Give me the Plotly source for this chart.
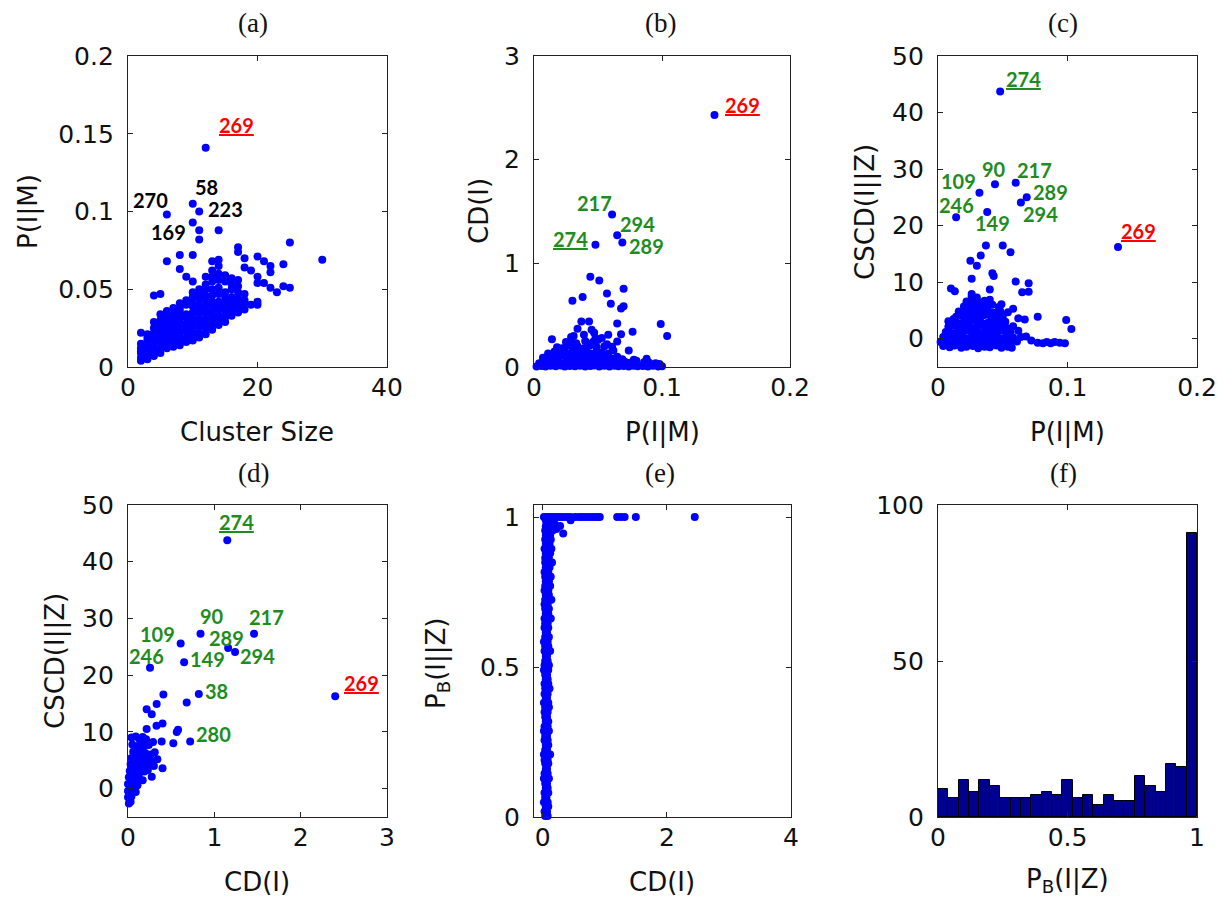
import numpy as np
import plotly.graph_objects as go

W, H = 1217, 902

# ---------------- (a) cluster size vs P(I|M) ----------------
a_size = [
    12, 6, 10, 11, 10, 11, 11, 14, 6, 8,
    10, 8, 9, 10, 4, 5, 4, 2, 3, 17,
    17, 18, 18, 19, 20, 21, 22, 22, 24, 25,
    30, 20, 20, 21, 22, 23, 24, 25, 20, 20,
    19, 17, 13, 14, 13, 14,
    2, 2, 2, 2, 2, 2,
    3, 3, 3, 3, 3, 3,
    4, 4, 4, 4, 4, 4, 4,
    5, 5, 5, 5, 5, 5, 5, 5, 5,
    6, 6, 6, 6, 6, 6, 6, 6, 6,
    7, 7, 7, 7, 7, 7, 7, 7, 7,
    8, 8, 8, 8, 8, 8, 8, 8, 8, 8,
    9, 9, 9, 9, 9, 9, 9, 9, 9,
    10, 10, 10, 10, 10, 10, 10, 10, 10, 10, 10,
    11, 11, 11, 11, 11, 11, 11, 11, 11, 11, 11,
    12, 12, 12, 12, 12, 12, 12, 12, 12, 12, 12, 12,
    13, 13, 13, 13, 13, 13, 13, 13, 13, 13, 13,
    14, 14, 14, 14, 14, 14, 14, 14, 14, 14,
    15, 15, 15, 15, 15, 15, 15, 15, 15,
    16, 16, 16, 16, 16, 16, 16, 16,
    17, 17, 17, 17, 17, 17, 17,
    18, 18, 18, 18,
]
a_pim = [
    0.141, 0.098, 0.105, 0.100, 0.093, 0.088, 0.082, 0.088, 0.068, 0.072,
    0.072, 0.063, 0.058, 0.055, 0.046, 0.047, 0.029, 0.022, 0.021, 0.077,
    0.074, 0.070, 0.064, 0.062, 0.071, 0.068, 0.065, 0.061, 0.066, 0.080,
    0.069, 0.058, 0.054, 0.054, 0.051, 0.048, 0.052, 0.051, 0.042, 0.040,
    0.040, 0.039, 0.068, 0.069, 0.062, 0.065,
    0.004, 0.006, 0.009, 0.010, 0.012, 0.015,
    0.005, 0.008, 0.010, 0.013, 0.017, 0.019,
    0.007, 0.011, 0.013, 0.016, 0.018, 0.022, 0.025,
    0.009, 0.012, 0.016, 0.018, 0.021, 0.023, 0.027, 0.030, 0.034,
    0.012, 0.014, 0.018, 0.021, 0.025, 0.027, 0.030, 0.032, 0.036,
    0.013, 0.016, 0.020, 0.022, 0.025, 0.029, 0.031, 0.034, 0.038,
    0.014, 0.018, 0.020, 0.023, 0.027, 0.029, 0.032, 0.036, 0.038, 0.041,
    0.016, 0.019, 0.023, 0.025, 0.028, 0.032, 0.034, 0.040, 0.043,
    0.017, 0.021, 0.023, 0.026, 0.030, 0.032, 0.035, 0.039, 0.041, 0.045, 0.048,
    0.019, 0.022, 0.026, 0.028, 0.031, 0.035, 0.037, 0.040, 0.044, 0.047, 0.050,
    0.021, 0.025, 0.027, 0.030, 0.034, 0.036, 0.039, 0.043, 0.046, 0.050, 0.053, 0.058,
    0.024, 0.027, 0.031, 0.033, 0.036, 0.040, 0.042, 0.046, 0.050, 0.055, 0.058,
    0.027, 0.030, 0.033, 0.037, 0.039, 0.042, 0.047, 0.051, 0.056, 0.060,
    0.029, 0.032, 0.036, 0.038, 0.041, 0.045, 0.048, 0.055, 0.059,
    0.033, 0.036, 0.040, 0.042, 0.045, 0.050, 0.053, 0.057,
    0.035, 0.038, 0.042, 0.044, 0.048, 0.052, 0.056,
    0.037, 0.041, 0.043, 0.047,
]

# ---------------- (b) P(I|M) vs CD(I) ----------------
b_pim = [
    0.141, 0.061, 0.065, 0.069, 0.048, 0.044, 0.051, 0.030, 0.038, 0.057,
    0.070, 0.060, 0.068, 0.070, 0.037, 0.043, 0.065, 0.099, 0.104, 0.077,
    0.068, 0.014, 0.058, 0.074,
    0.002, 0.006, 0.009, 0.013, 0.017, 0.021, 0.024, 0.028, 0.032, 0.036,
    0.040, 0.044, 0.047, 0.051, 0.055, 0.059, 0.063, 0.066, 0.070, 0.074,
    0.078, 0.081, 0.085, 0.089, 0.093, 0.097, 0.100,
    0.004, 0.008, 0.012, 0.016, 0.020, 0.025, 0.029, 0.033, 0.037, 0.041,
    0.046, 0.050, 0.054, 0.058, 0.062, 0.066, 0.071, 0.075, 0.080, 0.086,
    0.090, 0.095, 0.098,
    0.007, 0.011, 0.015, 0.019, 0.023, 0.027, 0.031, 0.035, 0.039, 0.043,
    0.047, 0.052, 0.056, 0.061, 0.065, 0.069, 0.078, 0.088,
    0.011, 0.016, 0.020, 0.024, 0.028, 0.032, 0.036, 0.041, 0.045, 0.049,
    0.053, 0.058, 0.062,
    0.018, 0.022, 0.026, 0.030, 0.034, 0.039, 0.044, 0.049, 0.055, 0.061,
    0.025, 0.029, 0.033, 0.040, 0.046, 0.050, 0.057, 0.065,
    0.031, 0.034, 0.039, 0.047, 0.048, 0.053, 0.029, 0.045,
]
b_cd = [
    2.43, 1.47, 1.27, 1.20, 1.18, 0.87, 0.835, 0.64, 0.675, 0.71,
    0.755, 0.61, 0.565, 0.585, 0.44, 0.44, 0.42, 0.415, 0.30, 0.34,
    0.316, 0.268, 0.31, 0.158,
    0.004, 0.010, 0.006, 0.012, 0.008, 0.015, 0.005, 0.010, 0.007, 0.012,
    0.004, 0.009, 0.014, 0.006, 0.011, 0.005, 0.013, 0.008, 0.010, 0.006,
    0.012, 0.007, 0.009, 0.004, 0.011, 0.006, 0.008,
    0.035, 0.050, 0.030, 0.045, 0.040, 0.055, 0.035, 0.050, 0.040, 0.060,
    0.035, 0.050, 0.045, 0.040, 0.055, 0.035, 0.050, 0.040, 0.060, 0.045,
    0.040, 0.035, 0.030,
    0.090, 0.070, 0.100, 0.085, 0.110, 0.090, 0.100, 0.080, 0.110, 0.095,
    0.085, 0.100, 0.090, 0.080, 0.100, 0.075, 0.070, 0.080,
    0.13, 0.15, 0.14, 0.16, 0.13, 0.15, 0.14, 0.16, 0.13, 0.15,
    0.14, 0.13, 0.16,
    0.19, 0.18, 0.21, 0.19, 0.20, 0.18, 0.21, 0.19, 0.20, 0.196,
    0.24, 0.26, 0.23, 0.25, 0.24, 0.26, 0.22, 0.245,
    0.30, 0.37, 0.31, 0.33, 0.28, 0.28, 0.29, 0.36,
]

# ---------------- (c) P(I|M) vs CSCD(I||Z) ----------------
c_pim = [
    0.048, 0.044, 0.060, 0.0685, 0.064, 0.032, 0.014, 0.038, 0.139, 0.037,
    0.050, 0.056, 0.033, 0.025, 0.030, 0.042, 0.043, 0.026, 0.060, 0.070,
    0.065, 0.070, 0.010, 0.013, 0.040, 0.026, 0.049, 0.058, 0.077, 0.099,
    0.103, 0.008, 0.012, 0.062, 0.067, 0.055, 0.062, 0.077, 0.081, 0.084,
    0.087, 0.090, 0.094, 0.098, 0.057, 0.072, 0.068,
    0.004, 0.009, 0.013, 0.018, 0.022, 0.027, 0.031, 0.036, 0.040, 0.045, 0.049, 0.054,
    0.002, 0.006, 0.011, 0.015, 0.020, 0.024, 0.029, 0.033, 0.038, 0.042, 0.047, 0.051, 0.056, 0.061,
    0.004, 0.008, 0.013, 0.017, 0.022, 0.026, 0.031, 0.035, 0.040, 0.044, 0.049, 0.053, 0.058, 0.064,
    0.006, 0.010, 0.015, 0.019, 0.024, 0.028, 0.033, 0.037, 0.042, 0.046, 0.051, 0.056,
    0.008, 0.012, 0.017, 0.021, 0.026, 0.030, 0.035, 0.039, 0.044, 0.048, 0.053, 0.058,
    0.011, 0.015, 0.020, 0.024, 0.029, 0.033, 0.038, 0.042, 0.047, 0.052,
    0.014, 0.018, 0.023, 0.027, 0.032, 0.036, 0.041, 0.045, 0.050,
    0.016, 0.021, 0.025, 0.030, 0.034, 0.039, 0.043, 0.048, 0.054,
    0.020, 0.024, 0.029, 0.033, 0.038, 0.042, 0.047,
    0.022, 0.027, 0.031, 0.036, 0.040,
    0.026, 0.030,
]
c_cscd = [
    43.7, 27.3, 27.6, 25.0, 24.1, 25.8, 21.5, 22.4, 16.2, 16.5,
    16.5, 15.3, 14.7, 13.8, 12.9, 11.6, 11.1, 10.6, 10.1, 9.8,
    8.2, 8.3, 8.9, 8.4, 8.7, 7.9, 6.1, 5.3, 3.9, 3.3,
    1.7, 3.1, 3.5, 3.6, 3.4, 1.4, 1.4, -0.7, -0.8, -0.6,
    -0.8, -0.6, -0.7, -0.8, -1.6, -0.3, 0.4,
    -1.3, -1.5, -1.2, -1.6, -1.4, -1.3, -1.7, -1.4, -1.5, -1.2, -1.6, -1.4,
    -0.6, -0.4, -0.7, -0.5, -0.8, -0.6, -0.4, -0.7, -0.5, -0.6, -0.8, -0.4, -0.6, -0.5,
    0.3, 0.5, 0.2, 0.4, 0.1, 0.3, 0.5, 0.2, 0.4, 0.3, 0.1, 0.4, 0.2, 0.3,
    1.2, 1.0, 1.3, 1.1, 1.4, 1.2, 1.0, 1.3, 1.1, 1.2, 1.4, 1.1,
    2.1, 2.3, 2.0, 2.2, 1.9, 2.1, 2.3, 2.0, 2.2, 2.1, 1.9, 2.2,
    3.0, 2.8, 3.1, 2.9, 3.2, 3.0, 2.8, 3.1, 2.9, 3.0,
    3.9, 4.1, 3.8, 4.0, 3.9, 4.2, 3.8, 4.0, 3.9,
    4.8, 4.6, 4.9, 4.7, 5.0, 4.8, 4.6, 4.9, 4.7,
    5.7, 5.9, 5.6, 5.8, 5.7, 6.0, 5.6,
    6.6, 6.8, 6.5, 6.7, 6.9,
    7.5, 7.3,
]

# ---------------- (d) CD(I) vs CSCD(I||Z) ----------------
d_cd = [
    1.15, 0.84, 1.46, 0.61, 1.16, 1.24, 0.255, 0.65, 2.40, 0.82,
    0.68, 0.41, 0.216, 0.275, 0.332, 0.216, 0.33, 0.40, 0.565, 0.58,
    0.525, 0.72, 0.39, 0.40, 0.275,
    0.04, 0.09, 0.13, 0.17, 0.21,
    0.05, 0.10, 0.14, 0.19, 0.24, 0.29,
    0.06, 0.11, 0.15, 0.20, 0.26, 0.31,
    0.04, 0.09, 0.13, 0.18, 0.22, 0.27, 0.34,
    0.03, 0.07, 0.12, 0.16, 0.21, 0.25, 0.30,
    0.02, 0.06, 0.10, 0.14, 0.19, 0.23,
    0.01, 0.05, 0.09, 0.13, 0.17,
    0.00, 0.03, 0.07, 0.11,
    0.00, 0.02, 0.05, 0.09,
    0.00, 0.02, 0.04,
    0.01, 0.03,
]
d_cscd = [
    43.8, 27.3, 27.3, 25.6, 24.8, 24.1, 21.3, 22.3, 16.3, 16.7,
    15.2, 16.6, 14.0, 13.1, 14.9, 10.5, 11.1, 11.5, 10.0, 10.4,
    8.0, 8.3, 8.3, 3.6, 2.1,
    9.0, 9.2, 8.8, 9.1, 8.7,
    7.8, 7.4, 7.9, 7.5, 7.7, 8.2,
    6.5, 6.2, 6.7, 6.3, 6.0, 6.4,
    5.4, 5.1, 5.6, 5.2, 5.5, 4.9, 5.2,
    4.3, 4.0, 4.4, 4.1, 3.9, 4.5, 4.0,
    3.1, 2.8, 3.2, 2.9, 3.0, 3.3,
    2.0, 1.7, 2.1, 1.8, 1.5,
    0.8, 0.5, 0.9, 0.6,
    -0.4, -0.7, -0.3, -0.6,
    -1.5, -1.8, -1.4,
    -2.6, -2.3,
]

# ---------------- (e) CD(I) vs P_B(I||Z) ----------------
e_pb_column = [
    0.003, 0.018, 0.035, 0.049, 0.066, 0.081, 0.097, 0.112, 0.128, 0.145,
    0.160, 0.178, 0.190, 0.208, 0.223, 0.240, 0.256, 0.270, 0.287, 0.302,
    0.318, 0.333, 0.350, 0.366, 0.381, 0.397, 0.410, 0.428, 0.444, 0.459,
    0.474, 0.490, 0.506, 0.520, 0.537, 0.553, 0.569, 0.584, 0.600, 0.615,
    0.631, 0.646, 0.662, 0.678, 0.694, 0.709, 0.724, 0.740, 0.755, 0.770,
    0.786, 0.801, 0.817, 0.832, 0.848, 0.863, 0.879, 0.894, 0.910, 0.925,
    0.940, 0.955, 0.968, 0.980,
]
e_cd_left = [
    0.04, 0.03, 0.05, 0.02, 0.04, 0.03, 0.05, 0.04, 0.02, 0.03,
    0.05, 0.04, 0.03, 0.02, 0.04, 0.05, 0.03, 0.04, 0.02, 0.03,
    0.05, 0.04, 0.03, 0.04, 0.02, 0.05, 0.03, 0.04, 0.03, 0.05,
    0.04, 0.02, 0.03, 0.04, 0.05, 0.03, 0.04, 0.02, 0.04, 0.05,
    0.03, 0.04, 0.03, 0.05, 0.04, 0.03, 0.04, 0.05, 0.03, 0.04,
    0.05, 0.04, 0.03, 0.05, 0.04, 0.04, 0.05, 0.03, 0.05, 0.04,
    0.05, 0.04, 0.05, 0.06,
]
e_cd_right = [
    0.08, 0.07, 0.09, 0.08, 0.06, 0.09, 0.08, 0.07, 0.10, 0.08,
    0.07, 0.09, 0.08, 0.12, 0.07, 0.09, 0.08, 0.07, 0.10, 0.08,
    0.09, 0.07, 0.08, 0.10, 0.09, 0.07, 0.08, 0.11, 0.09, 0.08,
    0.07, 0.09, 0.10, 0.08, 0.07, 0.12, 0.09, 0.08, 0.10, 0.07,
    0.09, 0.08, 0.13, 0.09, 0.10, 0.08, 0.14, 0.10, 0.09, 0.12,
    0.10, 0.13, 0.09, 0.11, 0.15, 0.10, 0.12, 0.14, 0.11, 0.13,
    0.12, 0.16, 0.14, 0.18,
]
e_cd_top = [
    0.02, 0.06, 0.10, 0.14, 0.18, 0.22, 0.27, 0.31, 0.36, 0.40,
    0.45, 0.52, 0.58, 0.63, 0.68, 0.73, 0.78, 0.83, 0.88, 0.92,
    1.20, 1.26, 1.32, 1.50, 2.45, 0.05, 0.12, 0.20, 0.28, 0.45,
    0.33, 0.22,
]
e_pb_top = [
    1.0, 1.0, 1.0, 1.0, 1.0, 1.0, 1.0, 1.0, 1.0, 1.0,
    1.0, 1.0, 1.0, 1.0, 1.0, 1.0, 1.0, 1.0, 1.0, 1.0,
    1.0, 1.0, 1.0, 1.0, 1.0, 0.99, 0.985, 0.975, 0.97, 0.989,
    0.945, 0.96,
]
e_cd = e_cd_left + e_cd_right + e_cd_top
e_pb = e_pb_column + e_pb_column + e_pb_top

# ---------------- (f) histogram of P_B(I|Z) ----------------
f_counts = [9, 6, 12, 8, 12, 10, 6, 6, 6, 7, 8, 7, 12, 6, 7, 4, 7, 5, 5, 13,
            10, 8, 17, 16, 91]

for xs, ys in [(a_size, a_pim), (b_pim, b_cd), (c_pim, c_cscd),
               (d_cd, d_cscd), (e_cd, e_pb)]:
    assert len(xs) == len(ys)

bin_edges = np.linspace(0, 1, len(f_counts) + 1)
f_centers = (bin_edges[:-1] + bin_edges[1:]) / 2
f_width = bin_edges[1] - bin_edges[0]

BLUE = "#0000FF"
GREEN = "#1E8C1E"
RED = "#FF0000"
AXIS_COLOR = "#222222"
TICK_FONT = dict(family="DejaVu Sans", size=25, color="#111111")
TITLE_FONT = dict(family="DejaVu Sans", size=26, color="#111111")
LABEL_FONT = "Lato"

# panel boxes in pixels: (left, right), (top, bottom)
cols = [(128, 387), (534, 790), (938, 1197)]
rows = [(56, 367), (505, 817)]


def xdom(c):
    return [c[0] / W, c[1] / W]


def ydom(r):
    return [1 - r[1] / H, 1 - r[0] / H]


fig = go.Figure()

scatter_sets = [
    (a_size, a_pim, "x", "y"),
    (b_pim, b_cd, "x2", "y2"),
    (c_pim, c_cscd, "x3", "y3"),
    (d_cd, d_cscd, "x4", "y4"),
    (e_cd, e_pb, "x5", "y5"),
]
for xs, ys, xa, ya in scatter_sets:
    fig.add_trace(go.Scatter(
        x=xs, y=ys, xaxis=xa, yaxis=ya, mode="markers",
        marker=dict(size=8, color=BLUE, line=dict(width=0)),
        cliponaxis=False, showlegend=False, hoverinfo="skip",
    ))

fig.add_trace(go.Bar(
    x=f_centers, y=f_counts, width=f_width, xaxis="x6", yaxis="y6",
    marker=dict(color="#00008F", line=dict(color="#000000", width=1)),
    showlegend=False, hoverinfo="skip",
))


def axis(domain, rng, tickvals, ticktext, anchor, standoff):
    return dict(
        domain=domain, range=rng, tickvals=tickvals, ticktext=ticktext,
        anchor=anchor, showline=True, linecolor=AXIS_COLOR, linewidth=1.3,
        mirror="ticks", ticks="inside", ticklen=5, tickwidth=1.2,
        tickcolor=AXIS_COLOR, showgrid=False, zeroline=False,
        tickfont=TICK_FONT, ticklabelstandoff=standoff, fixedrange=True,
        automargin=False,
    )


def xaxis(domain, rng, vals, anchor):
    return axis(domain, rng, vals, [f"{v:g}" for v in vals], anchor, -2)


def yaxis(domain, rng, vals, anchor):
    return axis(domain, rng, vals, [f"{v:g}" for v in vals], anchor, 8)


layout_axes = {
    "xaxis": xaxis(xdom(cols[0]), [0, 40], [0, 20, 40], "y"),
    "yaxis": yaxis(ydom(rows[0]), [0, 0.2], [0, 0.05, 0.1, 0.15, 0.2], "x"),
    "xaxis2": xaxis(xdom(cols[1]), [0, 0.2], [0, 0.1, 0.2], "y2"),
    "yaxis2": yaxis(ydom(rows[0]), [0, 3], [0, 1, 2, 3], "x2"),
    "xaxis3": xaxis(xdom(cols[2]), [0, 0.2], [0, 0.1, 0.2], "y3"),
    "yaxis3": yaxis(ydom(rows[0]), [-5, 50], [0, 10, 20, 30, 40, 50], "x3"),
    "xaxis4": xaxis(xdom(cols[0]), [0, 3], [0, 1, 2, 3], "y4"),
    "yaxis4": yaxis(ydom(rows[1]), [-5, 50], [0, 10, 20, 30, 40, 50], "x4"),
    "xaxis5": xaxis(xdom((534, 791)), [-0.14, 4], [0, 2, 4], "y5"),
    "yaxis5": yaxis(ydom(rows[1]), [0, 1.04], [0, 0.5, 1], "x5"),
    "xaxis6": xaxis(xdom(cols[2]), [0, 1], [0, 0.5, 1], "y6"),
    "yaxis6": yaxis(ydom(rows[1]), [0, 100], [0, 50, 100], "x6"),
}

annotations = []


def paper_text(text, x, y, font, angle=0):
    annotations.append(dict(
        text=text, x=x / W, y=1 - y / H, xref="paper", yref="paper",
        showarrow=False, xanchor="center", yanchor="middle",
        textangle=angle, font=font,
    ))


# panel titles
title_font = dict(family="Liberation Serif", size=27, color="#111111")
for t, (x, y) in zip(["(a)", "(b)", "(c)", "(d)", "(e)", "(f)"],
                     [(253, 23), (660, 23), (1063, 23),
                      (253, 473), (660, 473), (1063, 473)]):
    paper_text(t, x, y, title_font)

# axis titles
paper_text("Cluster Size", 257, 432, TITLE_FONT)
paper_text("P(I|M)", 662, 432, TITLE_FONT)
paper_text("P(I|M)", 1067, 432, TITLE_FONT)
paper_text("CD(I)", 257, 882, TITLE_FONT)
paper_text("CD(I)", 662, 882, TITLE_FONT)
paper_text("P<sub>B</sub>(I|Z)", 1067, 880, TITLE_FONT)
paper_text("P(I|M)", 28, 212, TITLE_FONT, -90)
paper_text("CD(I)", 479, 211, TITLE_FONT, -90)
paper_text("CSCD(I||Z)", 865, 212, TITLE_FONT, -90)
paper_text("CSCD(I||Z)", 55, 661, TITLE_FONT, -90)
paper_text("P<sub>B</sub>(I||Z)", 437, 663, TITLE_FONT, -90)


def point_label(text, x, y, xa, ya, color, underline=False):
    body = f"<u>{text}</u>" if underline else text
    annotations.append(dict(
        text=f"<b>{body}</b>", x=x, y=y, xref=xa, yref=ya, showarrow=False,
        xanchor="center", yanchor="middle",
        font=dict(family=LABEL_FONT, size=20, color=color),
    ))


# (a)
point_label("269", 16.7, 0.1556, "x", "y", RED, True)
point_label("270", 3.5, 0.1074, "x", "y", "#000000")
point_label("58", 12.15, 0.116, "x", "y", "#000000")
point_label("223", 15.1, 0.1016, "x", "y", "#000000")
point_label("169", 6.33, 0.087, "x", "y", "#000000")
# (b)
point_label("269", 0.1627, 2.527, "x2", "y2", RED, True)
point_label("217", 0.0469, 1.585, "x2", "y2", GREEN)
point_label("294", 0.0807, 1.384, "x2", "y2", GREEN)
point_label("274", 0.0287, 1.236, "x2", "y2", GREEN, True)
point_label("289", 0.088, 1.165, "x2", "y2", GREEN)
# (c)
point_label("274", 0.0659, 46.0, "x3", "y3", GREEN, True)
point_label("90", 0.0432, 30.1, "x3", "y3", GREEN)
point_label("217", 0.0744, 29.8, "x3", "y3", GREEN)
point_label("109", 0.0162, 27.9, "x3", "y3", GREEN)
point_label("289", 0.0865, 26.0, "x3", "y3", GREEN)
point_label("246", 0.0144, 23.7, "x3", "y3", GREEN)
point_label("294", 0.0795, 22.0, "x3", "y3", GREEN)
point_label("149", 0.0422, 20.4, "x3", "y3", GREEN)
point_label("269", 0.1552, 19.0, "x3", "y3", RED, True)
# (d)
point_label("274", 1.26, 47.0, "x4", "y4", GREEN, True)
point_label("90", 0.977, 30.4, "x4", "y4", GREEN)
point_label("217", 1.607, 30.2, "x4", "y4", GREEN)
point_label("109", 0.344, 27.2, "x4", "y4", GREEN)
point_label("289", 1.144, 26.6, "x4", "y4", GREEN)
point_label("246", 0.209, 23.4, "x4", "y4", GREEN)
point_label("149", 0.919, 22.8, "x4", "y4", GREEN)
point_label("294", 1.503, 23.3, "x4", "y4", GREEN)
point_label("38", 1.02, 17.3, "x4", "y4", GREEN)
point_label("280", 0.989, 9.7, "x4", "y4", GREEN)
point_label("269", 2.708, 18.7, "x4", "y4", RED, True)

fig.update_layout(
    template="none",
    width=W, height=H,
    margin=dict(l=0, r=0, t=0, b=0, autoexpand=False),
    paper_bgcolor="white", plot_bgcolor="white",
    showlegend=False, bargap=0,
    annotations=annotations,
    **layout_axes,
)

# keep the fixed-size figure flush with the page edges (no body margin, no scrollbars)
page_fit = (
    "document.body.style.margin='0';"
    "document.body.style.overflow='hidden';"
    "document.documentElement.style.overflow='hidden';"
)
fig.write_html("out.html", post_script=page_fit)
